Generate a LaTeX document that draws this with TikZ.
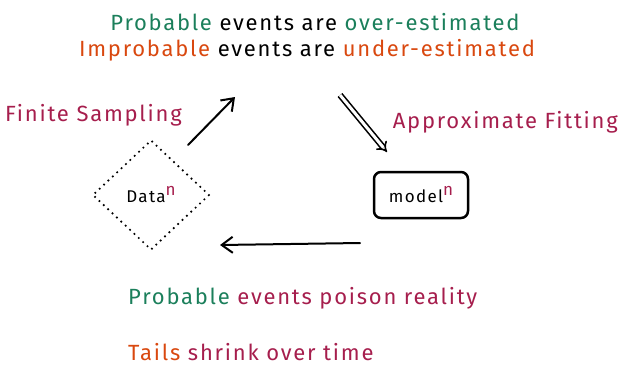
\documentclass[tikz,border=0pt]{standalone}
\usepackage{fontspec}
\setmainfont{Fira Sans}[LetterSpace=8]
\usetikzlibrary{shapes.geometric,arrows.meta}
\definecolor{pgreen}{HTML}{1B7F5B}
\definecolor{porange}{HTML}{D9480F}
\definecolor{pred}{HTML}{A61E4D}
\newcommand{\supn}{\raisebox{7pt}{\textcolor{pred}{n}}}
\tikzset{lbl/.style={font=\fontsize{22}{26}\selectfont,inner sep=0pt},
    small/.style={font=\fontsize{17}{20}\selectfont},
    arr/.style={-{Straight Barb[length=11pt,width=16pt]},line width=2pt,line cap=round}}
\begin{document}
\begin{tikzpicture}[x=1pt,y=-1pt]
    \useasboundingbox (0,0) rectangle (621,368);
    \node[lbl] (t1) at (315,22){\textcolor{pgreen}{Probable} events are \textcolor{pgreen}{over-estimated}};
    \node[lbl] (t2) at (307,50){\textcolor{porange}{Improbable} events are \textcolor{porange}{under-estimated}};
    \node[lbl,pred,anchor=west] (samp) at (5,115){Finite Sampling};
    \node[lbl,pred,anchor=east] (fit) at (618,122){Approximate Fitting};
    \node[draw,diamond,line width=2.4pt,line cap=round,dash pattern=on 0pt off 6pt,minimum width=117pt,minimum height=110pt,inner sep=1pt,small] (data) at (151,195){Data\supn};
    \node[draw,rounded corners=7pt,line width=2.5pt,minimum width=94pt,minimum height=46pt,small] (model) at (421,195){model\supn};
    \node[lbl,pred,anchor=west] (p1) at (128,298){\textcolor{pgreen}{Probable} events poison reality};
    \node[lbl,pred,anchor=base west] (p2) at (128,360){\textcolor{porange}{Tails} shrink over time};
    % arrows
    \coordinate (a1) at (188,145); \coordinate (b1) at (235,97);
    \coordinate (a2) at (340,95); \coordinate (b2) at (387,152);
    \coordinate (a3) at (360,243); \coordinate (b3) at (220,245);
    \draw[arr] (a1) -- (b1);
    \draw[-{Implies[length=10pt]},double,double distance=3pt,line width=1.6pt] (a2) -- (b2);
    \draw[arr] (a3) -- (b3);
\end{tikzpicture}
\end{document}
